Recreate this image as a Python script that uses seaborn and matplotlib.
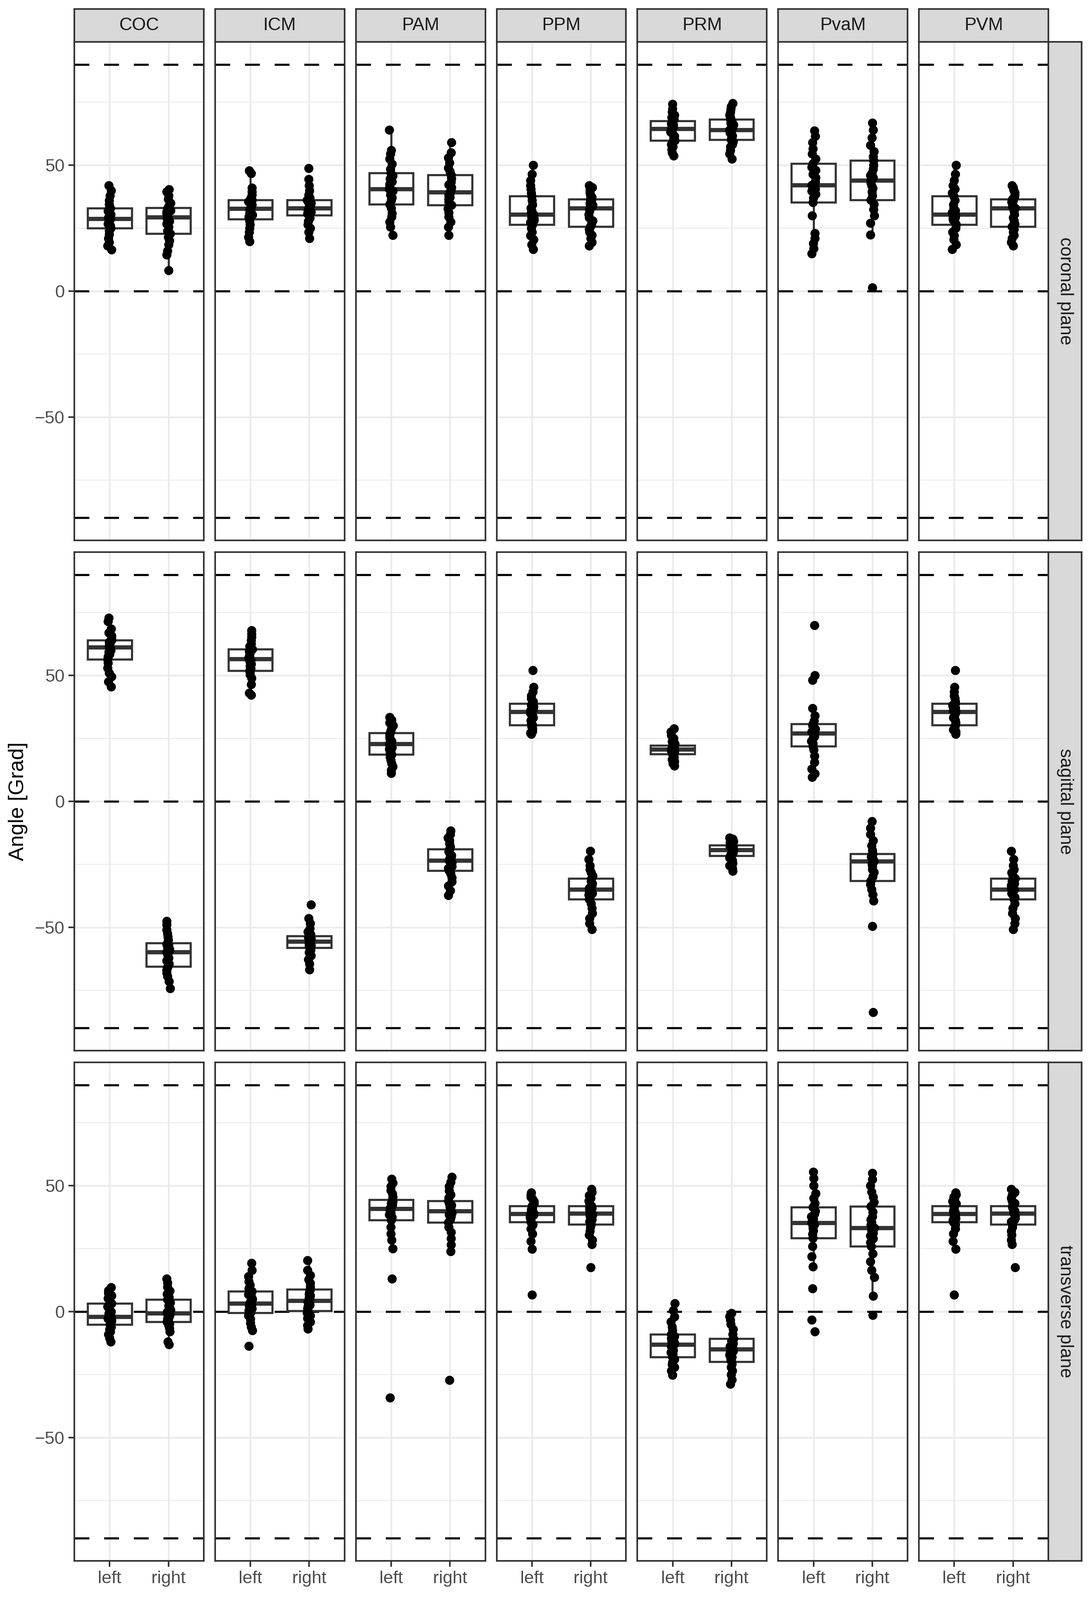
import matplotlib
matplotlib.use("Agg")
import matplotlib.pyplot as plt
import seaborn as sns
import pandas as pd
from matplotlib.ticker import FixedLocator

# facet layout
muscles = ["COC", "ICM", "PAM", "PPM", "PRM", "PvaM", "PVM"]
planes = ["coronal plane", "sagittal plane", "transverse plane"]
sides = ["left", "right"]

## coronal plane (degrees)
COR_COC_L = [16.5, 18, 19.5, 21, 22.5, 24, 25, 26, 26.8, 27.5, 28, 28.4, 28.7, 29.2, 29.8, 30.4, 31, 31.8, 32.9, 33.5, 34.5, 36, 38, 40, 42]
COR_COC_R = [8.2, 14.5, 16, 18.5, 20, 21.5, 22.9, 24, 25.5, 26.8, 27.8, 28.7, 29.4, 30, 30.8, 31.5, 32, 32.6, 33.1, 34, 35, 36.5, 38, 39.5, 40.4]
COR_ICM_L = [19.8, 21.5, 23.5, 25, 26.5, 27.8, 28.6, 29.5, 30.3, 31, 31.7, 32.3, 32.8, 33.3, 33.9, 34.4, 35, 35.6, 36.2, 37, 38.2, 39.5, 41, 46.8, 47.8]
COR_ICM_R = [21, 23.5, 25, 26.5, 27.8, 29, 30.1, 30.8, 31.4, 31.9, 32.3, 32.7, 33, 33.4, 33.8, 34.3, 34.9, 35.5, 36.2, 37, 38.2, 40, 42, 44.5, 48.8]
COR_PAM_L = [22.3, 25.5, 27.5, 29.5, 31, 33, 34.5, 36, 37.2, 38.2, 39, 39.8, 40.5, 41.5, 42.5, 43.5, 44.6, 45.8, 47, 48.5, 50.5, 52.5, 54.5, 56, 64]
COR_PAM_R = [22.3, 25.5, 27.5, 29.5, 31.2, 32.8, 34.2, 35.5, 36.5, 37.3, 38, 38.7, 39.3, 40.2, 41.2, 42.2, 43.3, 44.7, 46.2, 47.5, 49, 51, 53, 55, 59]
COR_PPM_L = [16.6, 18.5, 20.5, 22, 23.5, 25, 26.4, 27.3, 28.1, 28.8, 29.4, 30, 30.5, 31.2, 32, 33, 34.3, 36, 37.7, 39, 40.5, 42, 44, 46.5, 50]
COR_PPM_R = [18, 19.5, 21, 22.3, 23.5, 24.6, 25.6, 26.8, 28, 29.2, 30.5, 31.8, 33, 33.6, 34.2, 34.8, 35.4, 36, 36.5, 37.3, 38.2, 39.2, 40.2, 41.2, 42]
COR_PRM_L = [53.7, 55, 56.3, 57.4, 58.3, 59.1, 59.8, 60.6, 61.5, 62.4, 63.2, 63.9, 64.5, 65, 65.5, 66, 66.5, 67, 67.6, 68.3, 69, 70, 71.2, 72.5, 74.3]
COR_PRM_R = [52.6, 54.5, 56, 57.3, 58.3, 59.3, 60.1, 60.9, 61.7, 62.3, 62.9, 63.5, 64, 64.6, 65.3, 66, 66.7, 67.4, 68.2, 69, 70, 71, 72.2, 73.4, 74.6]
COR_PVAM_L = [15, 17, 19, 21, 23, 30, 35.3, 37, 38.5, 39.8, 40.5, 41.3, 42.1, 43.5, 45, 46.5, 48, 49.3, 50.7, 52.5, 54.5, 56.5, 59, 61.5, 63.7]
COR_PVAM_R = [1.4, 22.4, 27, 30, 32.5, 34.5, 36.2, 38, 39.5, 40.8, 42, 43, 44, 45, 46, 47, 48.5, 50, 51.9, 53.5, 55.5, 58, 61, 64, 66.8]

## sagittal plane
SAG_COC_L = [45.6, 47.5, 49.5, 51, 53, 55, 56.4, 57.5, 58.5, 59.3, 60, 60.7, 61.3, 61.8, 62.3, 62.8, 63.3, 63.7, 64.1, 64.8, 65.8, 67, 68.5, 71.5, 72.9]
SAG_COC_R = [-74.3, -71.5, -69.5, -68, -67, -66.2, -65.6, -64.5, -63.3, -62.2, -61.2, -60.5, -59.8, -59.2, -58.6, -58, -57.4, -56.8, -56.2, -55, -53.8, -52.5, -51, -49, -47.6]
SAG_ICM_L = [42.2, 43, 46.5, 49, 50.3, 51.2, 51.9, 52.8, 53.7, 54.5, 55.3, 56, 56.6, 57.2, 57.8, 58.4, 59, 59.7, 60.4, 61.5, 62.7, 64, 65.2, 66.5, 67.9]
SAG_ICM_R = [-66.8, -64.5, -62.8, -61.3, -60, -59, -58.1, -57.6, -57.2, -56.8, -56.4, -56, -55.7, -55.3, -55, -54.6, -54.2, -53.9, -53.5, -52.8, -51.8, -50.5, -48.5, -46.5, -41]
SAG_PAM_L = [11.2, 12.5, 13.8, 15, 16.3, 17.5, 18.6, 19.4, 20.1, 20.8, 21.5, 22.2, 22.8, 23.4, 24, 24.7, 25.4, 26.3, 27.2, 28.2, 29.2, 30.2, 31.3, 32.4, 33.4]
SAG_PAM_R = [-37.3, -35.5, -33.5, -31.8, -30.3, -28.8, -27.5, -26.6, -25.8, -25, -24.4, -23.9, -23.4, -22.8, -22.2, -21.5, -20.8, -19.9, -19, -18, -16.8, -15.6, -14.4, -13, -11.6]
SAG_PPM_L = [26.7, 27.2, 27.8, 28.4, 29, 29.7, 30.3, 31.2, 32.2, 33.2, 34.1, 34.9, 35.6, 36.1, 36.6, 37.1, 37.6, 38.2, 38.8, 39.7, 40.8, 42, 43.5, 45.4, 52.1]
SAG_PPM_R = [-50.8, -48.5, -46.5, -44.5, -42.5, -40.5, -38.9, -38, -37.2, -36.5, -36, -35.5, -35, -34.5, -34, -33.4, -32.7, -31.7, -30.6, -29.5, -28.3, -27, -25.5, -23, -19.7]
SAG_PRM_L = [14.1, 15, 15.8, 16.6, 17.4, 18.2, 18.8, 19.2, 19.6, 19.9, 20.1, 20.4, 20.6, 20.8, 21.1, 21.4, 21.7, 22, 22.2, 22.9, 23.8, 25, 26.3, 27.6, 28.9]
SAG_PRM_R = [-27.6, -26.5, -25.5, -24.5, -23.5, -22.4, -21.6, -21.1, -20.6, -20.2, -19.9, -19.6, -19.3, -19, -18.7, -18.4, -18.1, -17.8, -17.4, -16.9, -16.3, -15.8, -15.3, -14.9, -14.5]
SAG_PVAM_L = [9.6, 11, 12.9, 15.5, 18, 20.5, 21.9, 23, 24, 25, 25.8, 26.4, 27, 27.6, 28.2, 28.8, 29.4, 30.1, 30.8, 32, 34, 37, 48.2, 50.1, 70]
SAG_PVAM_R = [-83.8, -49.5, -39.5, -37, -35, -33, -31.5, -29.8, -28.2, -27, -25.8, -24.8, -23.8, -23, -22.5, -22.1, -21.7, -21.3, -20.8, -19.5, -17.5, -15.5, -13, -10.5, -8]

## transverse plane
TRA_COC_L = [-11.9, -10.5, -9, -8, -7, -6, -5.1, -4.4, -3.8, -3.2, -2.8, -2.4, -2.1, -1.5, -0.8, 0, 0.9, 2, 3.3, 4.3, 5.3, 6.3, 7.3, 8.4, 9.6]
TRA_COC_R = [-13, -12, -8, -6.5, -5.5, -4.8, -4.1, -3.4, -2.8, -2.2, -1.7, -1.2, -0.7, -0.1, 0.6, 1.4, 2.3, 3.5, 4.8, 5.8, 7, 8.3, 9.8, 11.5, 13]
TRA_ICM_L = [-13.7, -7.5, -6, -4.5, -3, -1.5, -0.4, 0.4, 1.2, 1.8, 2.3, 2.8, 3.2, 3.8, 4.4, 5, 5.8, 6.9, 8.1, 9.2, 10.5, 12, 14, 16.5, 19.2]
TRA_ICM_R = [-6.8, -5.5, -4, -2.7, -1.5, -0.5, 0.3, 1.2, 2, 2.7, 3.3, 3.9, 4.4, 5, 5.6, 6.3, 7, 7.9, 8.9, 10, 11.3, 12.7, 14.5, 16.5, 20.3]
TRA_PAM_L = [-34.2, 13, 25, 28.5, 31, 33.5, 36.3, 37.5, 38.5, 39.3, 39.9, 40.4, 40.8, 41.3, 41.8, 42.4, 43, 43.7, 44.5, 45.5, 46.8, 48.2, 49.7, 51.2, 52.7]
TRA_PAM_R = [-27.2, 24, 26.5, 29, 31.5, 33.5, 35.5, 36.7, 37.7, 38.5, 39.1, 39.6, 40, 40.5, 41, 41.6, 42.2, 43, 44, 45.2, 46.5, 48, 49.7, 51.5, 53.5]
TRA_PPM_L = [6.7, 24.9, 28, 31, 33, 34.5, 35.6, 36.4, 37, 37.5, 38, 38.4, 38.8, 39.2, 39.6, 40, 40.5, 41.2, 42, 42.9, 43.8, 44.7, 45.5, 46.4, 47.3]
TRA_PPM_R = [17.5, 26.7, 28.5, 30.5, 32, 33.5, 34.7, 35.7, 36.5, 37.2, 37.9, 38.5, 39, 39.5, 40, 40.5, 41, 41.5, 42, 43, 44, 45, 46.2, 47.4, 48.6]
TRA_PRM_L = [-25.2, -23.5, -22, -21, -20, -19, -18, -17, -16.2, -15.4, -14.6, -13.8, -13, -12.4, -11.8, -11.2, -10.6, -9.8, -9, -7.5, -6, -4, -2, 0.5, 3.3]
TRA_PRM_R = [-28.8, -27, -25, -23.5, -22, -20.8, -19.9, -19, -18.1, -17.3, -16.5, -15.7, -15, -14.4, -13.8, -13.2, -12.6, -11.7, -10.7, -9, -7, -5, -3.2, -1.8, -0.7]
TRA_PVAM_L = [-7.9, -3.2, 9.2, 17.8, 21.9, 26, 29.2, 30.8, 32.2, 33.2, 34, 34.6, 35.2, 36, 36.9, 37.8, 38.8, 40, 41.5, 43, 45, 47, 50, 53, 55.5]
TRA_PVAM_R = [-1.4, 6.2, 13.7, 16.5, 19.9, 23, 26, 27.5, 29, 30.2, 31.3, 32.3, 33.2, 34.3, 35.4, 36.5, 37.7, 39.7, 41.8, 43.5, 45.5, 47.5, 50, 52.5, 55]

# PVM panels show the same values as PPM in the source figure
groups = {
    "coronal plane": {"COC": (COR_COC_L, COR_COC_R), "ICM": (COR_ICM_L, COR_ICM_R), "PAM": (COR_PAM_L, COR_PAM_R),
                      "PPM": (COR_PPM_L, COR_PPM_R), "PRM": (COR_PRM_L, COR_PRM_R), "PvaM": (COR_PVAM_L, COR_PVAM_R),
                      "PVM": (COR_PPM_L, COR_PPM_R)},
    "sagittal plane": {"COC": (SAG_COC_L, SAG_COC_R), "ICM": (SAG_ICM_L, SAG_ICM_R), "PAM": (SAG_PAM_L, SAG_PAM_R),
                       "PPM": (SAG_PPM_L, SAG_PPM_R), "PRM": (SAG_PRM_L, SAG_PRM_R), "PvaM": (SAG_PVAM_L, SAG_PVAM_R),
                       "PVM": (SAG_PPM_L, SAG_PPM_R)},
    "transverse plane": {"COC": (TRA_COC_L, TRA_COC_R), "ICM": (TRA_ICM_L, TRA_ICM_R), "PAM": (TRA_PAM_L, TRA_PAM_R),
                         "PPM": (TRA_PPM_L, TRA_PPM_R), "PRM": (TRA_PRM_L, TRA_PRM_R), "PvaM": (TRA_PVAM_L, TRA_PVAM_R),
                         "PVM": (TRA_PPM_L, TRA_PPM_R)},
}

rows = []
for plane in planes:
    for muscle in muscles:
        for side, vals in zip(sides, groups[plane][muscle]):
            for v in vals:
                rows.append((plane, muscle, side, v))
df = pd.DataFrame(rows, columns=["plane", "muscle", "side", "angle"])

sns.set_theme(style="white")
plt.rcParams['font.family'] = ['Liberation Sans', 'DejaVu Sans']

W, H = 2789, 4089
fig, axes = plt.subplots(3, 7, figsize=(W / 300, H / 300), dpi=300, sharey=True)
fig.subplots_adjust(left=190 / W, right=2680 / W, bottom=1 - 3989 / H, top=1 - 107 / H,
                    wspace=0.088, hspace=0.0235)

grid_col = "#EBEBEB"
dark = "#333333"

for i, plane in enumerate(planes):
    for j, muscle in enumerate(muscles):
        ax = axes[i, j]
        sub = df[(df.plane == plane) & (df.muscle == muscle)]
        for yv in (-90, 0, 90):
            ax.axhline(yv, color="black", linewidth=1.3, linestyle=(0, (7, 7)), zorder=1.5)
        sns.boxplot(data=sub, x="side", y="angle", order=sides, ax=ax, width=0.75,
                    color="white", linecolor=dark, linewidth=1.3, showfliers=False,
                    showcaps=False, medianprops=dict(linewidth=2.6))
        sns.stripplot(data=sub, x="side", y="angle", order=sides, ax=ax, color="black",
                      size=5.6, jitter=0.035, linewidth=0, zorder=3)
        ax.set_xlim(-0.6, 1.6)
        ax.set_ylim(-99, 99)
        ax.set_xlabel("")
        ax.set_ylabel("")
        ax.set_facecolor("white")
        ax.set_axisbelow(True)
        ax.yaxis.set_major_locator(FixedLocator([-50, 0, 50]))
        ax.yaxis.set_minor_locator(FixedLocator([-75, -25, 25, 75]))
        ax.grid(which="major", color=grid_col, linewidth=1.1)
        ax.grid(which="minor", axis="y", color=grid_col, linewidth=0.55)
        for sp in ax.spines.values():
            sp.set_color(dark)
            sp.set_linewidth(1.0)
        ax.tick_params(axis="both", which="major", length=3.5, width=1.0, color=dark,
                       labelsize=10.8, labelcolor="#4D4D4D", pad=2.5)
        ax.tick_params(axis="y", which="minor", length=0)
        if j > 0:
            ax.tick_params(axis="y", left=False, labelleft=False)
        else:
            ax.tick_params(axis="y", left=True, labelleft=True)
        if i < 2:
            ax.tick_params(axis="x", bottom=False, labelbottom=False)
        else:
            ax.tick_params(axis="x", bottom=True, labelbottom=True)

# top strips
strip_col = "#D9D9D9"
for j, muscle in enumerate(muscles):
    pos = axes[0, j].get_position()
    sax = fig.add_axes([pos.x0, pos.y1, pos.width, 84 / H])
    sax.set_facecolor(strip_col)
    sax.set_xticks([])
    sax.set_yticks([])
    for sp in sax.spines.values():
        sp.set_color(dark)
        sp.set_linewidth(1.0)
    sax.text(0.5, 0.5, muscle, ha="center", va="center", fontsize=11, color="#1A1A1A",
             transform=sax.transAxes)

# right strips
for i, plane in enumerate(planes):
    pos = axes[i, -1].get_position()
    sax = fig.add_axes([pos.x1, pos.y0, 85 / W, pos.height])
    sax.set_facecolor(strip_col)
    sax.set_xticks([])
    sax.set_yticks([])
    for sp in sax.spines.values():
        sp.set_color(dark)
        sp.set_linewidth(1.0)
    sax.text(0.5, 0.5, plane, ha="center", va="center", rotation=-90, fontsize=11,
             color="#1A1A1A", transform=sax.transAxes)

fig.text(46 / W, 1 - 2048 / H, "Angle [Grad]", rotation=90, ha="center", va="center",
         fontsize=13, color="black")

fig.savefig("out.png", dpi=300)
